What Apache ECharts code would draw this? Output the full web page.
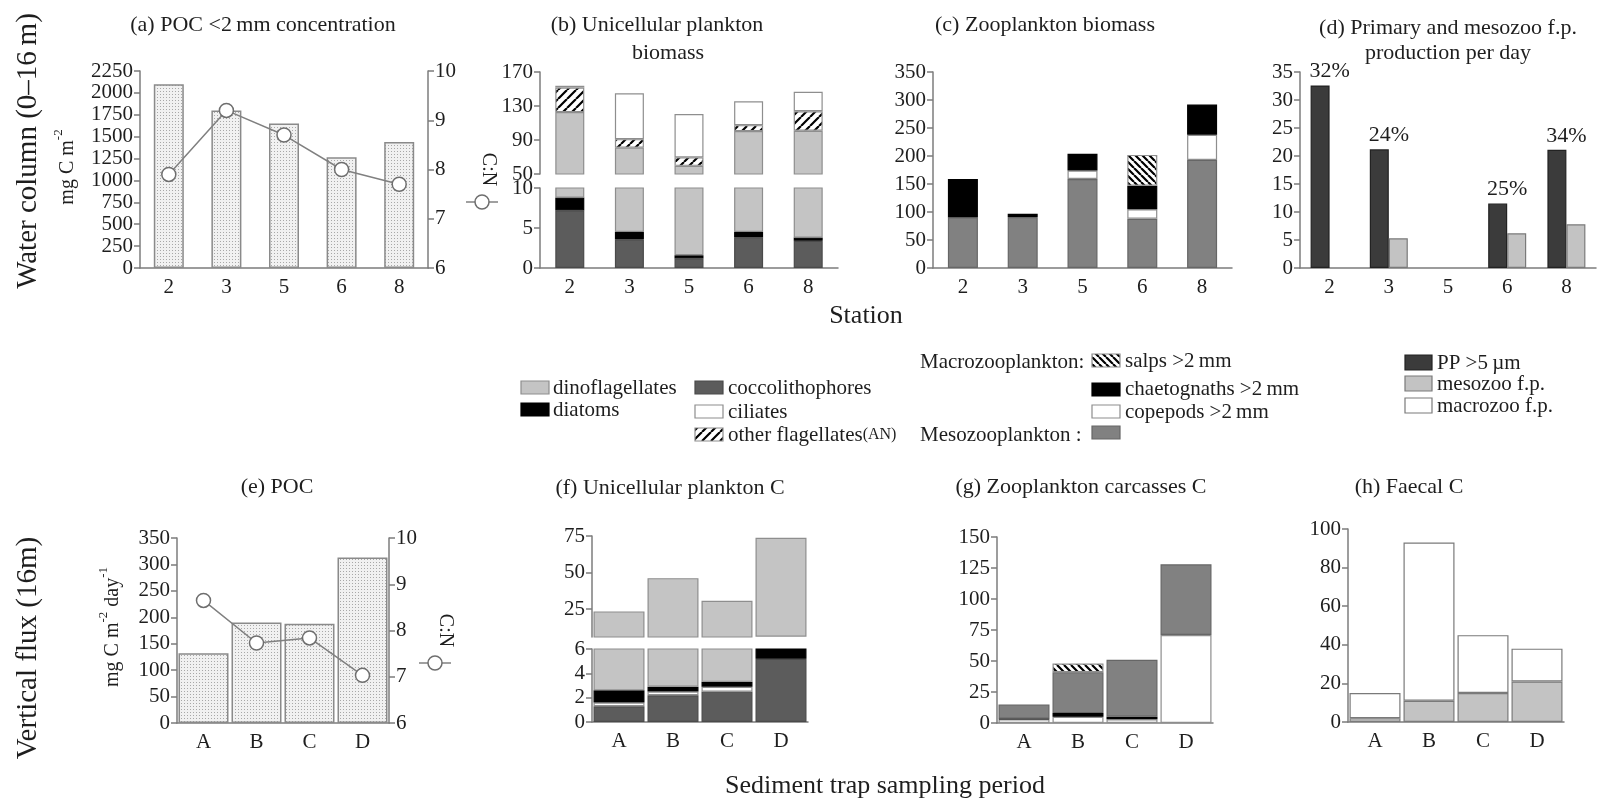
<!DOCTYPE html>
<html><head><meta charset="utf-8">
<script src="https://cdn.jsdelivr.net/npm/echarts@6/dist/echarts.min.js"></script>
<style>html,body{margin:0;padding:0;background:#fff}#c{width:1601px;height:803px}</style>
</head><body><div id="c"></div>
<script>
// ---------- DATA ----------
const stations = ['2', '3', '5', '6', '8'];
const periods = ['A', 'B', 'C', 'D'];
// (a) POC <2mm concentration (mg C m-2) and C:N
const pocConc = [2100, 1800, 1650, 1265, 1440];
const pocCN = [7.9, 9.2, 8.7, 8.0, 7.7];
// (b) Unicellular plankton biomass
const bCocco = [7.2, 3.6, 1.2, 3.8, 3.4];
const bDiatoms = [1.6, 0.9, 0.4, 0.7, 0.4];
const bDino = [114, 76.5, 58, 96, 97];
const bOtherFlag = [29, 10, 10, 7, 23];
const bCiliates = [2, 54, 51, 28, 23];
// (c) Zooplankton biomass
const cMeso = [90, 91, 159, 88, 193];
const cCope = [null, null, 15, 17, 45];
const cChaeto = [69, 6, 30, 42, 54];
const cSalps = [null, null, null, 55, null];
// (d) Primary and mesozoo f.p. production per day
const dPP = [32.6, 21.2, null, 11.5, 21.1];
const dMesoFP = [null, 5.3, null, 6.2, 7.8];
const dPercent = ['32%', '24%', '', '25%', '34%'];
// (e) POC flux and C:N
const eFlux = [132, 190, 188, 313];
const eCN = [8.65, 7.73, 7.84, 7.03];
// (f) Unicellular plankton C
const fCocco = [1.3, 2.2, 2.5, 5.2];
const fCiliates = [0.3, 0.3, 0.4, null];
const fDiatoms = [1.0, 0.4, 0.4, 1.0];
const fDino = [20.9, 43.3, 27.4, 67.6];
// (g) Zooplankton carcasses C
const gCope = [3, 5, 3, 71];
const gChaeto = [0.5, 3, 2, null];
const gMeso = [11.5, 33, 46, 57];
const gSalps = [null, 7, null, null];
// (h) Faecal C
const hMesoFP = [2, 11, 15, 21];
const hMacroFP = [13, 82, 30, 17];

// ---------- STYLE HELPERS ----------
const FONT = 'Liberation Serif';
const AX = '#7c7c7c';
const TXT = '#1e1e1e';

function hatchCanvas(size, dir, lw) {
  const c = document.createElement('canvas');
  c.width = c.height = size;
  const g = c.getContext('2d');
  g.fillStyle = '#fff'; g.fillRect(0, 0, size, size);
  g.strokeStyle = '#000'; g.lineWidth = lw;
  g.beginPath();
  for (let k = -1; k <= 1; k++) {
    if (dir === '/') { g.moveTo(k * size, size); g.lineTo(k * size + size, 0); }
    else { g.moveTo(k * size, 0); g.lineTo(k * size + size, size); }
  }
  g.stroke();
  return c;
}
function stippleCanvas() {
  const c = document.createElement('canvas');
  c.width = c.height = 3;
  const g = c.getContext('2d');
  g.fillStyle = '#f1f1f1'; g.fillRect(0, 0, 3, 3);
  g.fillStyle = '#a8a8a8'; g.fillRect(1, 1, 1, 1);
  return c;
}
const hatchFwd = hatchCanvas(9, '/', 2.2);
const hatchBack = hatchCanvas(7, '\\', 2.2);
const stipple = stippleCanvas();
const pat = (cv) => ({ image: cv, repeat: 'repeat' });

const ST = {
  cocco: { color: '#5c5c5c', borderColor: '#4a4a4a' },
  diatoms: { color: '#000', borderColor: '#000' },
  dino: { color: '#c4c4c4', borderColor: '#8e8e8e' },
  otherFlag: { color: pat(hatchFwd), borderColor: '#8e8e8e' },
  ciliates: { color: '#fff', borderColor: '#8e8e8e' },
  meso: { color: '#818181', borderColor: '#666' },
  cope: { color: '#fff', borderColor: '#8e8e8e' },
  chaeto: { color: '#000', borderColor: '#000' },
  salps: { color: pat(hatchBack), borderColor: '#8e8e8e' },
  pp: { color: '#3b3b3b', borderColor: '#222' },
  mesoFP: { color: '#c3c3c3', borderColor: '#7a7a7a' },
  macroFP: { color: '#fff', borderColor: '#7a7a7a' },
  poc: { color: pat(stipple), borderColor: '#8a8a8a' }
};

const plain = v => String(v);
function yAx(grid, o) {
  return Object.assign({
    type: 'value', gridIndex: grid,
    axisLine: { show: true, lineStyle: { color: AX, width: 1.5 } },
    axisTick: { show: true, length: 6, lineStyle: { color: AX, width: 1.5 } },
    axisLabel: { color: TXT, fontSize: 21, fontFamily: FONT, margin: 7, formatter: plain },
    splitLine: { show: false }
  }, o);
}
function xAx(grid, data, show) {
  return {
    type: 'category', gridIndex: grid, data: data, show: show !== false,
    axisLine: { show: true, lineStyle: { color: AX, width: 1.5 } },
    axisTick: { show: false },
    axisLabel: { color: TXT, fontSize: 21, fontFamily: FONT, margin: 9 },
    splitLine: { show: false }
  };
}
function bar(data, xi, yi, stack, st, w, extra) {
  return Object.assign({
    type: 'bar', xAxisIndex: xi, yAxisIndex: yi, stack: stack, data: data,
    barWidth: w, clip: true,
    itemStyle: { color: st.color, borderColor: st.borderColor, borderWidth: 1.2 }
  }, extra || {});
}

const grids = [
  { left: 140, top: 71, width: 288, height: 197 },   // 0 a
  { left: 540, top: 72, width: 298, height: 102 },   // 1 b upper
  { left: 540, top: 188, width: 298, height: 80 },   // 2 b lower
  { left: 933, top: 72, width: 299, height: 196 },   // 3 c
  { left: 1300, top: 72, width: 296, height: 196 },  // 4 d
  { left: 177, top: 538, width: 212, height: 185 },  // 5 e
  { left: 592, top: 536, width: 216, height: 101 },  // 6 f upper
  { left: 592, top: 649, width: 216, height: 73 },   // 7 f lower
  { left: 997, top: 537, width: 216, height: 186 },  // 8 g
  { left: 1348, top: 529, width: 216, height: 193 }  // 9 h
];

const xAxes = [
  xAx(0, stations), xAx(1, stations, false), xAx(2, stations), xAx(3, stations), xAx(4, stations),
  xAx(5, periods), xAx(6, periods, false), xAx(7, periods), xAx(8, periods), xAx(9, periods)
];
const yAxes = [
  yAx(0, { min: 0, max: 2250, interval: 250 }),                                         // 0
  yAx(0, { min: 6, max: 10, interval: 1, position: 'right', name: 'C:N', nameLocation: 'middle',
           nameRotate: -90, nameGap: 50, nameTextStyle: { fontSize: 20, fontFamily: FONT, color: TXT } }), // 1
  yAx(1, { min: 50, max: 170, interval: 40 }),                                           // 2
  yAx(2, { min: 0, max: 10, interval: 5 }),                                              // 3
  yAx(3, { min: 0, max: 350, interval: 50 }),                                            // 4
  yAx(4, { min: 0, max: 35, interval: 5 }),                                              // 5
  yAx(5, { min: 0, max: 350, interval: 50 }),                                            // 6
  yAx(5, { min: 6, max: 10, interval: 1, position: 'right', name: 'C:N', nameLocation: 'middle',
           nameRotate: -90, nameGap: 46, nameTextStyle: { fontSize: 20, fontFamily: FONT, color: TXT } }), // 7
  yAx(6, { min: 6, max: 75, axisLabel: { color: TXT, fontSize: 21, fontFamily: FONT, margin: 7, formatter: plain, customValues: [25, 50, 75] },
           axisTick: { show: true, length: 6, lineStyle: { color: AX, width: 1.5 }, customValues: [25, 50, 75] } }), // 8
  yAx(7, { min: 0, max: 6, interval: 2 }),                                               // 9
  yAx(8, { min: 0, max: 150, interval: 25 }),                                            // 10
  yAx(9, { min: 0, max: 100, interval: 20 })                                             // 11
];

const series = [];
// (a)
series.push(bar(pocConc, 0, 0, null, ST.poc, 30, { itemStyle: { color: ST.poc.color, borderColor: ST.poc.borderColor, borderWidth: 1.5 } }));
series.push({ type: 'line', xAxisIndex: 0, yAxisIndex: 1, data: pocCN, symbol: 'circle', symbolSize: 14, z: 5,
  lineStyle: { color: '#808080', width: 1.5 }, itemStyle: { color: '#fff', borderColor: '#6e6e6e', borderWidth: 1.5 } });
// (b)
[[bCocco, ST.cocco], [bDiatoms, ST.diatoms], [bDino, ST.dino], [bOtherFlag, ST.otherFlag], [bCiliates, ST.ciliates]]
  .forEach(([d, s]) => { series.push(bar(d, 1, 2, 'bU', s, 29)); series.push(bar(d, 2, 3, 'bL', s, 29)); });
// (c)
[[cMeso, ST.meso], [cCope, ST.cope], [cChaeto, ST.chaeto], [cSalps, ST.salps]]
  .forEach(([d, s]) => series.push(bar(d, 3, 4, 'c', s, 30)));
// (d)
series.push(bar(dPP, 4, 5, null, ST.pp, 19, { barGap: '0%',
  label: { show: true, position: 'top', distance: 3, offset: [9.5, 0], color: TXT, fontSize: 22, fontFamily: FONT,
           formatter: p => dPercent[p.dataIndex] } }));
series.push(bar(dMesoFP, 4, 5, null, ST.mesoFP, 19, { barGap: '0%' }));
// (e)
series.push(bar(eFlux, 5, 6, null, ST.poc, 50, { itemStyle: { color: ST.poc.color, borderColor: ST.poc.borderColor, borderWidth: 1.5 } }));
series.push({ type: 'line', xAxisIndex: 5, yAxisIndex: 7, data: eCN, symbol: 'circle', symbolSize: 14, z: 5,
  lineStyle: { color: '#808080', width: 1.5 }, itemStyle: { color: '#fff', borderColor: '#6e6e6e', borderWidth: 1.5 } });
// (f)
[[fCocco, ST.cocco], [fCiliates, ST.ciliates], [fDiatoms, ST.diatoms], [fDino, ST.dino]]
  .forEach(([d, s]) => { series.push(bar(d, 6, 8, 'fU', s, 51)); series.push(bar(d, 7, 9, 'fL', s, 51)); });
// (g)
[[gCope, ST.cope], [gChaeto, ST.chaeto], [gMeso, ST.meso], [gSalps, ST.salps]]
  .forEach(([d, s]) => series.push(bar(d, 8, 10, 'g', s, 51)));
// (h)
[[hMesoFP, ST.mesoFP], [hMacroFP, ST.macroFP]]
  .forEach(([d, s]) => series.push(bar(d, 9, 11, 'h', s, 51)));

// ---------- TEXT / LEGENDS ----------
function txt(x, y, text, size, align, extra) {
  return Object.assign({ type: 'text', x: x, y: y, z: 10,
    style: Object.assign({ text: text, font: size + 'px "' + FONT + '"', fill: TXT,
      textAlign: align || 'center', verticalAlign: 'middle' }, (extra && extra.style) || {}) },
    extra ? { rotation: extra.rotation || 0 } : {});
}
function patSwatch(x, y, w, h, st) {
  return { type: 'rect', shape: { x: x, y: y, width: w, height: h }, z: 10,
    style: { fill: st.color, stroke: st.borderColor, lineWidth: 1.2 } };
}
function marker(cx, cy) {
  return [
    { type: 'line', z: 10, shape: { x1: cx - 16, y1: cy, x2: cx + 16, y2: cy }, style: { stroke: '#808080', lineWidth: 1.5 } },
    { type: 'circle', z: 11, shape: { cx: cx, cy: cy, r: 7 }, style: { fill: '#fff', stroke: '#6e6e6e', lineWidth: 1.5 } }
  ];
}
function unitText(x, y, parts) {
  return { type: 'text', x: x, y: y, rotation: Math.PI / 2, z: 10,
    style: { text: parts, fill: TXT, textAlign: 'center', verticalAlign: 'middle',
      font: '20px "' + FONT + '"',
      rich: { n: { fontSize: 20, fontFamily: FONT, fill: TXT, lineHeight: 26, verticalAlign: 'bottom' },
              s: { fontSize: 13, fontFamily: FONT, fill: TXT, lineHeight: 26, verticalAlign: 'top' } } } };
}

const graphic = [
  // row titles
  txt(28, 151, 'Water column (0\u201316\u2009m)', 29, 'center', { rotation: Math.PI / 2 }),
  txt(28, 648, 'Vertical flux (16m)', 29, 'center', { rotation: Math.PI / 2 }),
  unitText(65, 167, '{n|mg C m}{s|-2}'),
  unitText(110, 627, '{n|mg C m}{s|-2}{n| day}{s|-1}'),
  // panel titles
  txt(263, 25, '(a) POC <2\u2009mm concentration', 22),
  txt(657, 25, '(b) Unicellular plankton', 22),
  txt(668, 53, 'biomass', 22),
  txt(1045, 25, '(c) Zooplankton biomass', 22),
  txt(1448, 28, '(d) Primary and mesozoo f.p.', 22),
  txt(1448, 53, 'production per day', 22),
  txt(277, 487, '(e) POC', 22),
  txt(670, 488, '(f) Unicellular plankton C', 22),
  txt(1081, 487, '(g) Zooplankton carcasses C', 22),
  txt(1409, 487, '(h) Faecal C', 22),
  // axis titles
  txt(866, 316, 'Station', 26),
  txt(885, 786, 'Sediment trap sampling period', 26),
  // unicellular legend
  patSwatch(521, 381, 28, 13, ST.dino), txt(553, 388, 'dinoflagellates', 21, 'left'),
  patSwatch(521, 403, 28, 13, ST.diatoms), txt(553, 410, 'diatoms', 21, 'left'),
  patSwatch(695, 381, 28, 13, ST.cocco), txt(728, 388, 'coccolithophores', 21, 'left'),
  patSwatch(695, 405, 28, 13, ST.ciliates), txt(728, 412, 'ciliates', 21, 'left'),
  patSwatch(695, 428, 28, 13, ST.otherFlag),
  { type: 'text', x: 728, y: 435, z: 10, style: { text: '{n|other flagellates}{s|(AN)}', fill: TXT, textAlign: 'left', verticalAlign: 'middle',
      font: '21px "' + FONT + '"',
      rich: { n: { fontSize: 21, fontFamily: FONT, fill: TXT }, s: { fontSize: 16, fontFamily: FONT, fill: TXT } } } },
  // zooplankton legend
  txt(920, 362, 'Macrozooplankton:', 21, 'left'),
  patSwatch(1092, 354, 28, 13, ST.salps), txt(1125, 361, 'salps >2\u2009mm', 21, 'left'),
  patSwatch(1092, 383, 28, 13, ST.chaeto), txt(1125, 389, 'chaetognaths >2\u2009mm', 21, 'left'),
  patSwatch(1092, 405, 28, 13, ST.cope), txt(1125, 412, 'copepods >2\u2009mm', 21, 'left'),
  txt(920, 435, 'Mesozooplankton :', 21, 'left'),
  patSwatch(1092, 426, 28, 13, ST.meso),
  // production legend
  patSwatch(1405, 355, 27, 15, ST.pp), txt(1437, 363, 'PP >5\u2009\u00b5m', 21, 'left'),
  patSwatch(1405, 376, 27, 15, ST.mesoFP), txt(1437, 384, 'mesozoo f.p.', 21, 'left'),
  patSwatch(1405, 398, 27, 15, ST.macroFP), txt(1437, 406, 'macrozoo f.p.', 21, 'left')
].concat(marker(482, 202), marker(435, 663));

const chart = echarts.init(document.getElementById('c'), null, { renderer: 'canvas' });
chart.setOption({
  animation: false,
  backgroundColor: '#fff',
  textStyle: { fontFamily: FONT },
  grid: grids,
  xAxis: xAxes,
  yAxis: yAxes,
  series: series,
  graphic: graphic
});
</script>
</body></html>
